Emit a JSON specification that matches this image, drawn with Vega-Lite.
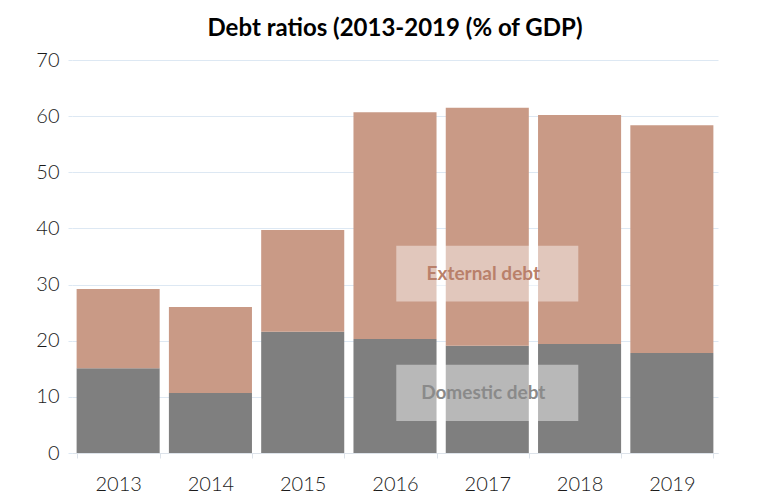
{
  "$schema": "https://vega.github.io/schema/vega-lite/v6.json",
  "autosize": "none",
  "width": 646,
  "height": 393,
  "padding": {"left": 72, "top": 60, "right": 65, "bottom": 46},
  "background": "white",
  "title": {
    "text": "Debt ratios (2013-2019 (% of GDP)",
    "font": "Lato",
    "fontSize": 24,
    "fontWeight": "bold",
    "color": "#000000",
    "anchor": "middle",
    "offset": 9
  },
  "config": {
    "view": {"stroke": null},
    "axis": {
      "labelFont": "Lato",
      "labelFontWeight": 300,
      "labelFontSize": 20,
      "labelColor": "#1a1a1a",
      "gridColor": "#dde8f3",
      "tickColor": "#dde3ea",
      "domainColor": "#dde3ea",
      "title": null
    }
  },
  "layer": [
    {
      "data": {
        "values": [
          {"year": "2013", "type": "Domestic debt", "value": 15.1},
          {"year": "2013", "type": "External debt", "value": 14.1},
          {"year": "2014", "type": "Domestic debt", "value": 10.7},
          {"year": "2014", "type": "External debt", "value": 15.3},
          {"year": "2015", "type": "Domestic debt", "value": 21.6},
          {"year": "2015", "type": "External debt", "value": 18.1},
          {"year": "2016", "type": "Domestic debt", "value": 20.3},
          {"year": "2016", "type": "External debt", "value": 40.4},
          {"year": "2017", "type": "Domestic debt", "value": 19.1},
          {"year": "2017", "type": "External debt", "value": 42.4},
          {"year": "2018", "type": "Domestic debt", "value": 19.4},
          {"year": "2018", "type": "External debt", "value": 40.8},
          {"year": "2019", "type": "Domestic debt", "value": 17.8},
          {"year": "2019", "type": "External debt", "value": 40.6}
        ]
      },
      "mark": {"type": "bar"},
      "encoding": {
        "x": {
          "field": "year",
          "type": "ordinal",
          "scale": {"paddingInner": 0.1, "paddingOuter": 0.05},
          "axis": {"labelAngle": 0, "tickBand": "extent", "tickSize": 5, "labelPadding": 16, "grid": false}
        },
        "y": {
          "field": "value",
          "type": "quantitative",
          "stack": "zero",
          "scale": {"domain": [0, 70]},
          "axis": {"values": [0, 10, 20, 30, 40, 50, 60, 70], "domain": false, "tickSize": 4, "tickColor": "#dde8f3", "labelPadding": 9, "grid": true}
        },
        "color": {
          "field": "type",
          "type": "nominal",
          "scale": {"domain": ["Domestic debt", "External debt"], "range": ["#7f7f7f", "#c99a86"]},
          "legend": null
        },
        "order": {"field": "type", "sort": "ascending"}
      }
    },
    {
      "data": {
        "values": [
          {"label": "External debt", "year": "2017", "lo": 27.0, "hi": 36.9, "mid": 31.9},
          {"label": "Domestic debt", "year": "2017", "lo": 5.7, "hi": 15.7, "mid": 10.7}
        ]
      },
      "layer": [
        {
          "mark": {"type": "bar", "width": 182, "color": "white", "opacity": 0.45},
          "encoding": {
            "x": {"field": "year", "type": "ordinal"},
            "y": {"field": "lo", "type": "quantitative"},
            "y2": {"field": "hi"}
          }
        },
        {
          "mark": {"type": "text", "font": "Lato", "fontSize": 19, "fontWeight": "bold", "dx": -4},
          "encoding": {
            "x": {"field": "year", "type": "ordinal"},
            "y": {"field": "mid", "type": "quantitative"},
            "text": {"field": "label"},
            "color": {
              "condition": {"test": "datum.label === 'External debt'", "value": "#b9806a"},
              "value": "#8a8a8a"
            }
          }
        }
      ]
    }
  ]
}
